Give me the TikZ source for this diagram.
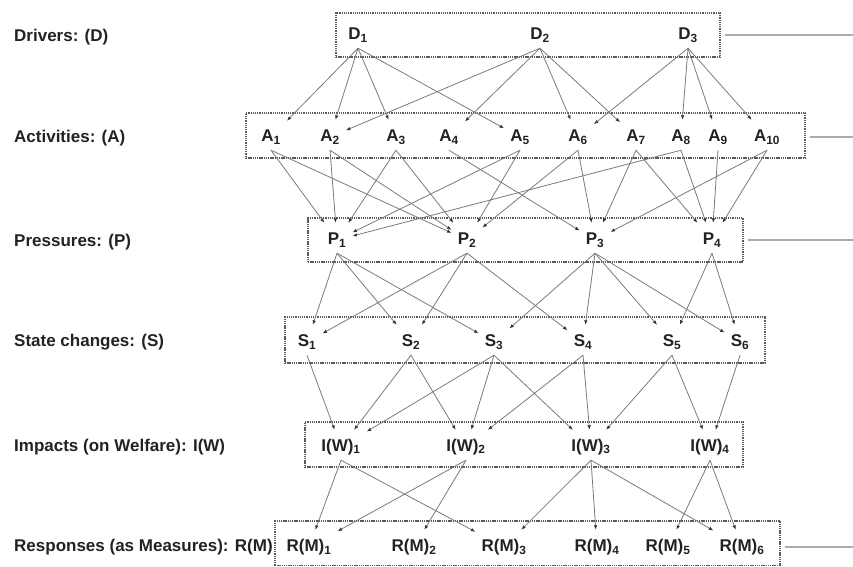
\documentclass[tikz,border=0pt]{standalone}
\usepackage{fontspec}
\setmainfont{Liberation Sans}
\usetikzlibrary{arrows.meta}
\definecolor{edgegray}{HTML}{7A7A7A}
\definecolor{tipgray}{HTML}{333333}
\definecolor{boxgray}{HTML}{5A5A5A}
\definecolor{linkgray}{HTML}{ABABAB}
\definecolor{txt}{HTML}{222222}
\begin{document}
\begin{tikzpicture}[x=1pt,y=-1pt,
  lbl/.style={anchor=west, font=\fontsize{17}{20}\selectfont\bfseries, text=txt, inner sep=0pt},
  nd/.style={font=\fontsize{17}{20}\selectfont\bfseries, text=txt, inner xsep=6pt, inner ysep=0pt, minimum height=34pt},
  layer/.style={draw=boxgray, line width=1.3pt, dash pattern=on 1.3pt off 0.9pt, inner sep=0pt},
  edge/.style={draw=edgegray, line width=0.8pt, -{Latex[length=4.5pt,width=3.5pt,color=tipgray]}},
  link/.style={draw=linkgray, line width=2pt}]
\useasboundingbox (0,0) rectangle (853,566);

% layer boxes
\node[layer, minimum width=384pt, minimum height=44pt] (Dbox) at (528,35) {};
\node[layer, minimum width=559pt, minimum height=45pt] (Abox) at (525.5,135.5) {};
\node[layer, minimum width=435pt, minimum height=44pt] (Pbox) at (525.5,240) {};
\node[layer, minimum width=480pt, minimum height=46pt] (Sbox) at (525,340) {};
\node[layer, minimum width=438pt, minimum height=45pt] (Ibox) at (524,444.5) {};
\node[layer, minimum width=505pt, minimum height=44.5pt] (Rbox) at (527.5,543.25) {};

% links to the right
\coordinate (Dend) at (853,35);
\coordinate (Aend) at (853,137);
\coordinate (Pend) at (853,240);
\coordinate (Rend) at (853,547);
\draw[link] ([xshift=4pt]Dbox.east) -- (Dend);
\draw[link] ([xshift=4pt]Abox.east |- Aend) -- (Aend);
\draw[link] ([xshift=4pt]Pbox.east) -- (Pend);
\draw[link] ([xshift=4pt]Rbox.east |- Rend) -- (Rend);

% left labels
\node[lbl] (LD) at (14,37) {Drivers: (D)};
\node[lbl] (LA) at (14,138) {Activities: (A)};
\node[lbl] (LP) at (14,242) {Pressures: (P)};
\node[lbl] (LS) at (14,342) {State changes: (S)};
\node[lbl] (LI) at (14,447) {Impacts (on Welfare): I(W)};
\node[lbl] (LR) at (14,547) {Responses (as Measures): R(M)};

% nodes
\foreach \n/\x in {1/358,2/540,3/688}
  \node[nd] (D\n) at (\x,35) {D\textsubscript{\n}};
\foreach \n/\x in {1/271,2/330,3/396,4/449,5/520,6/578,7/636,8/681,9/718,10/767}
  \node[nd] (A\n) at (\x,137) {A\textsubscript{\n}};
\foreach \n/\x in {1/337,2/467,3/595,4/712}
  \node[nd] (P\n) at (\x,240) {P\textsubscript{\n}};
\foreach \n/\x in {1/307,2/411,3/494,4/583,5/672,6/740}
  \node[nd] (S\n) at (\x,342) {S\textsubscript{\n}};
\foreach \n/\x in {1/341,2/466,3/591,4/710}
  \node[nd] (I\n) at (\x,447) {I(W)\textsubscript{\n}};
\foreach \n/\x in {1/309,2/414,3/504,4/597,5/668,6/742}
  \node[nd] (R\n) at (\x,547) {R(M)\textsubscript{\n}};

% connectors
\foreach \s/\t in {D1/A1,D1/A2,D1/A3,D1/A5,D2/A2,D2/A4,D2/A6,D2/A7,D3/A6,D3/A8,D3/A9,D3/A10,
  A1/P1,A1/P2,A2/P1,A2/P2,A3/P1,A3/P2,A4/P3,A5/P1,A5/P2,A6/P2,A6/P3,A7/P3,A7/P4,A8/P1,A8/P4,A9/P4,A10/P3,A10/P4,
  P1/S1,P1/S2,P1/S3,P2/S1,P2/S2,P2/S4,P3/S3,P3/S4,P3/S5,P3/S6,P4/S5,P4/S6,
  S1/I1,S2/I1,S2/I2,S3/I1,S3/I2,S3/I3,S4/I2,S4/I3,S5/I3,S5/I4,S6/I4,
  I1/R1,I1/R3,I2/R1,I2/R2,I3/R3,I3/R4,I3/R6,I4/R5,I4/R6}
  \draw[edge] ([yshift=4pt]\s.south) -- (\t);
\end{tikzpicture}
\end{document}
